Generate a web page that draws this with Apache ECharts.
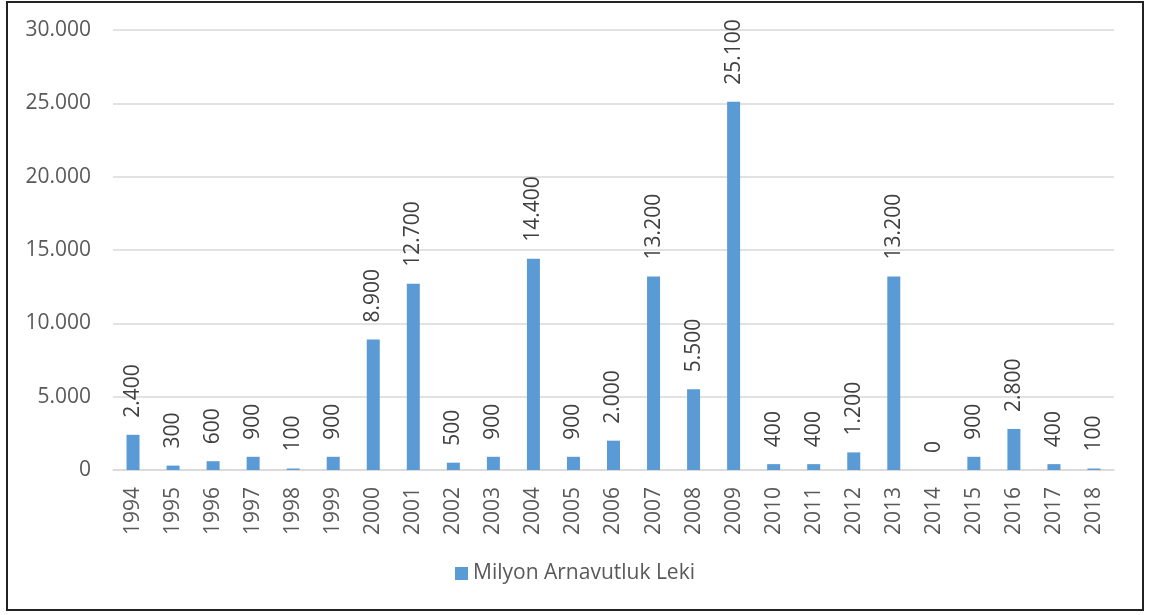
<!DOCTYPE html>
<html>
<head>
<meta charset="utf-8">
<script src="https://cdn.jsdelivr.net/npm/echarts@6/dist/echarts.min.js"></script>
<style>
  html, body { margin: 0; padding: 0; background: #fff; }
  #frame {
    position: absolute; left: 6px; top: 1px; width: 1134px; height: 606px;
    border: 2px solid #222; box-sizing: content-box;
  }
  #chart { position: absolute; left: 0; top: 0; width: 1150px; height: 615px; }
</style>
</head>
<body>
<div id="frame"></div>
<div id="chart"></div>
<script>
const years = ['1994', '1995', '1996', '1997', '1998', '1999', '2000', '2001', '2002', '2003',
  '2004', '2005', '2006', '2007', '2008', '2009', '2010', '2011', '2012', '2013',
  '2014', '2015', '2016', '2017', '2018']
const values = [2400, 300, 600, 900, 100, 900, 8900, 12700, 500, 900,
  14400, 900, 2000, 13200, 5500, 25100, 400, 400, 1200, 13200,
  0, 900, 2800, 400, 100]
const seriesName = 'Milyon Arnavutluk Leki'

// binlik ayırıcı nokta
function fmt(n) {
  return String(n).replace(/\B(?=(\d{3})+(?!\d))/g, '.')
}

const FONT = 'Open Sans'
const TEXT = '#595959'
const BAR = '#5B9BD5'

const chart = echarts.init(document.getElementById('chart'))

const option = {
  animation: false,
  textStyle: { fontFamily: FONT },
  grid: {
    left: 113,
    right: 36,
    top: 30,
    bottom: 145
  },
  legend: {
    bottom: 26,
    left: 'center',
    icon: 'rect',
    itemWidth: 13,
    itemHeight: 13,
    itemGap: 6,
    textStyle: { color: TEXT, fontSize: 21, fontFamily: FONT },
    data: [seriesName]
  },
  xAxis: {
    type: 'category',
    data: years,
    axisTick: { show: false },
    axisLine: { lineStyle: { color: '#D9D9D9', width: 1.5 } },
    axisLabel: {
      rotate: 90,
      margin: 17,
      color: TEXT,
      fontSize: 21,
      fontFamily: FONT
    }
  },
  yAxis: {
    type: 'value',
    min: 0,
    max: 30000,
    interval: 5000,
    axisLine: { show: false },
    axisTick: { show: false },
    splitLine: { lineStyle: { color: '#D9D9D9', width: 1.5 } },
    axisLabel: {
      margin: 22,
      color: TEXT,
      fontSize: 21,
      fontFamily: FONT,
      formatter: v => fmt(v)
    }
  },
  series: [{
    name: seriesName,
    type: 'bar',
    data: values,
    barWidth: 13,
    itemStyle: { color: BAR },
    label: {
      show: true,
      position: 'top',
      rotate: 90,
      align: 'left',
      verticalAlign: 'middle',
      distance: 17,
      color: '#404040',
      fontSize: 21,
      fontFamily: FONT,
      formatter: p => fmt(p.value)
    }
  }]
}

chart.setOption(option)
</script>
</body>
</html>
